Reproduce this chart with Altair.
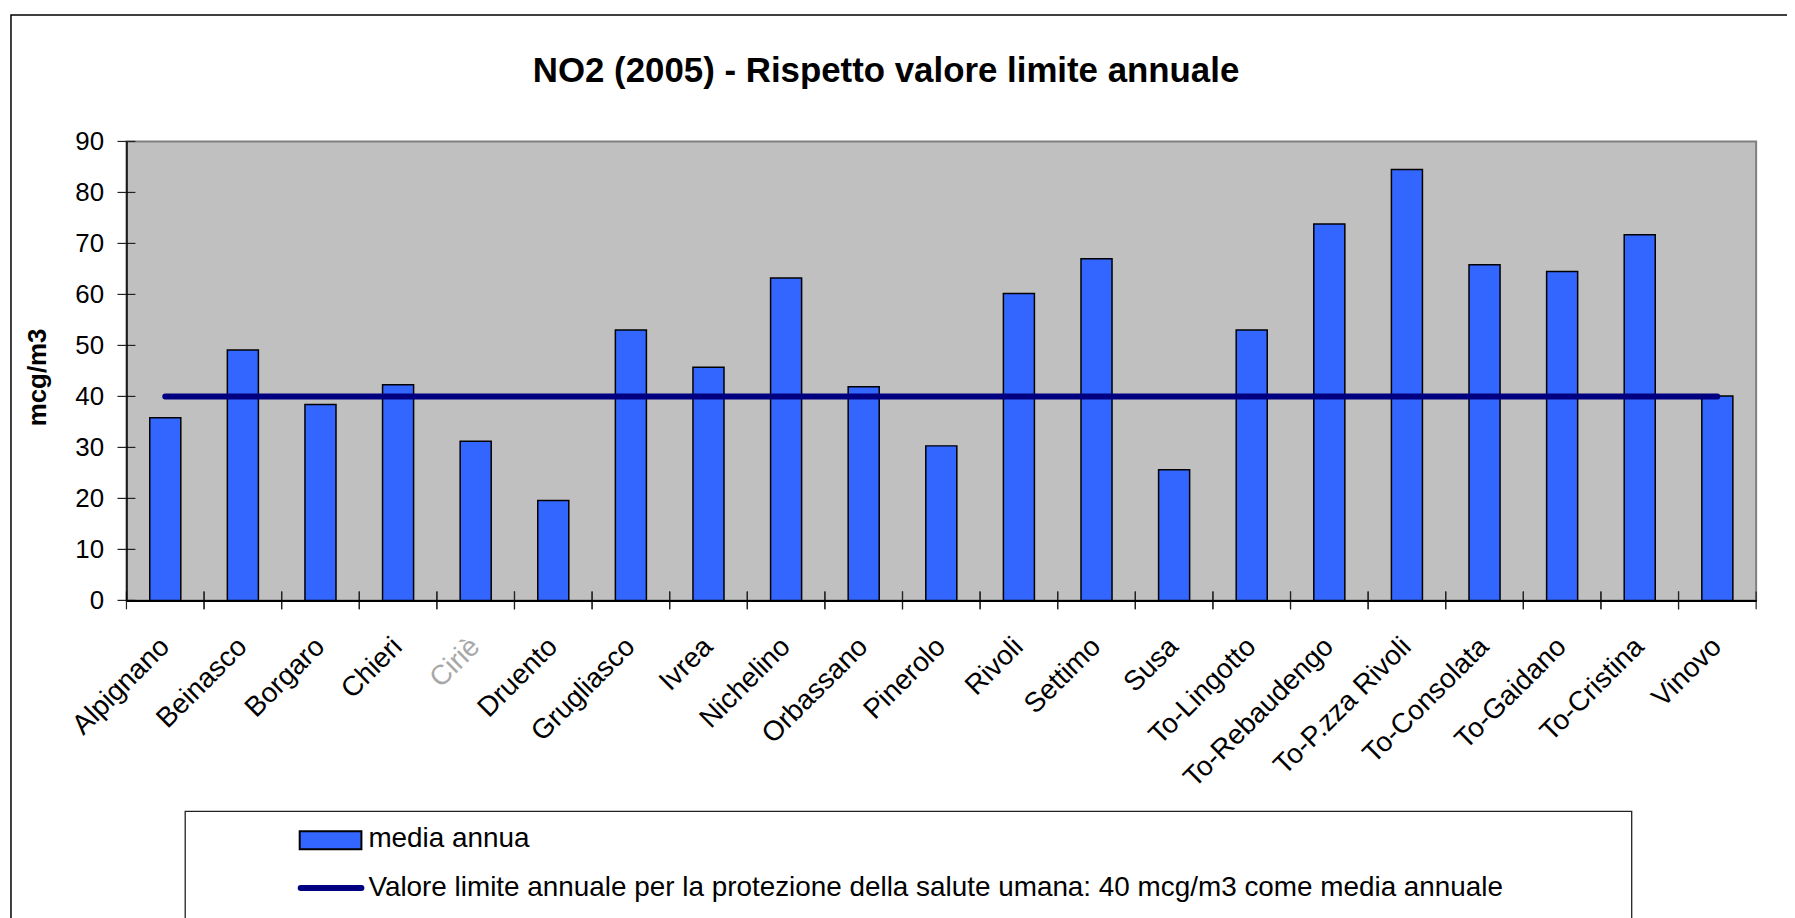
import altair as alt
import pandas as pd

# ---------------- data ----------------
stazioni = ["Alpignano", "Beinasco", "Borgaro", "Chieri", "Ciriè", "Druento",
            "Grugliasco", "Ivrea", "Nichelino", "Orbassano", "Pinerolo", "Rivoli",
            "Settimo", "Susa", "To-Lingotto", "To-Rebaudengo", "To-P.zza Rivoli",
            "To-Consolata", "To-Gaidano", "To-Cristina", "Vinovo"]
media_annua = [35.8, 49.1, 38.4, 42.3, 31.2, 19.6, 53.0, 45.7, 63.2, 41.9, 30.3,
               60.2, 67.0, 25.6, 53.0, 73.8, 84.5, 65.8, 64.5, 71.7, 40.1]
valore_limite = [40, 40, 40, 40, 40, 40, 40, 40, 40, 40, 40,
                 40, 40, 40, 40, 40, 40, 40, 40, 40, 40]
y_ticks = [0, 10, 20, 30, 40, 50, 60, 70, 80, 90]
titolo = "NO2 (2005) - Rispetto valore limite annuale"
titolo_y = "mcg/m3"
legenda = ["media annua",
           "Valore limite annuale per la protezione della salute umana: 40 mcg/m3 come media annuale"]

FONT = "Liberation Sans"
W, H = 1637, 461

df = pd.DataFrame({"stazione": stazioni, "media": media_annua, "limite": valore_limite})
df_ticks = pd.DataFrame({"v": y_ticks})
one = alt.Data(values=[{"k": 0}])

x_scale = alt.Scale(paddingInner=0, paddingOuter=0)
x_axis = alt.Axis(
    title=None, labelAngle=-45, labelAlign="right", labelBaseline="middle",
    labelFont=FONT, labelFontSize=28, labelPadding=42, labelLimit=500,
    labelOverlap=False, ticks=False, tickSize=0,
    labelColor={"condition": {"test": "datum.value === 'Ciriè'", "value": "#a8a8a8"},
                "value": "black"},
    domainColor="black", domainWidth=2, zindex=1)
y_scale = alt.Scale(domain=[0, 90], nice=False, zero=True)
y_axis = alt.Axis(
    values=y_ticks, title=titolo_y, titleFont=FONT, titleFontSize=26,
    titleFontWeight="bold", titleColor="black", titleX=-89, titleY=H / 2 + 6,
    titleBaseline="middle", titleAlign="center", titleAngle=-90,
    labelFont=FONT, labelFontSize=26, labelColor="black", labelPadding=23,
    ticks=False, tickSize=0, grid=False,
    domainColor="black", domainWidth=1.5, zindex=1)


def X(bp=None):
    if bp is None:
        return alt.X("stazione:N", sort=None, scale=x_scale, axis=x_axis)
    return alt.X("stazione:N", sort=None, scale=x_scale, axis=x_axis, bandPosition=bp)


frame = alt.Chart(one).mark_rect(filled=False, color="black", strokeWidth=1.5).encode(
    x=alt.value(-116), x2=alt.value(1700), y=alt.value(-127), y2=alt.value(900))

bars = alt.Chart(df).mark_bar(
    color="#3366FF", stroke="black", strokeWidth=1.5, width=alt.RelativeBandSize(0.4)
).encode(x=X(), y=alt.Y("media:Q", scale=y_scale, axis=y_axis))

line = alt.Chart(df).mark_line(color="#000080", strokeWidth=6, strokeCap="round").encode(
    x=X(), y=alt.Y("limite:Q", scale=y_scale, axis=y_axis))

yt = alt.Chart(df_ticks).mark_rule(color="#222222", strokeWidth=1.2).encode(
    y=alt.Y("v:Q", scale=y_scale, axis=y_axis), x=alt.value(-9), x2=alt.value(9))

xt0 = alt.Chart(df).mark_rule(color="#222222", strokeWidth=1.2).encode(
    x=X(0), y=alt.value(H - 9), y2=alt.value(H + 9))
xt1 = alt.Chart(df).mark_rule(color="#222222", strokeWidth=1.2).encode(
    x=X(1), y=alt.value(H - 9), y2=alt.value(H + 9))

title = alt.Chart(one).mark_text(
    font=FONT, fontSize=35, fontWeight="bold", align="center", baseline="alphabetic",
    color="black").encode(x=alt.value(763), y=alt.value(-60), text=alt.value(titolo))

leg_box = alt.Chart(one).mark_rect(filled=False, color="#222222", strokeWidth=1.3).encode(
    x=alt.value(59), x2=alt.value(1512), y=alt.value(673), y2=alt.value(900))
leg_rect = alt.Chart(one).mark_rect(fill="#3366FF", stroke="black", strokeWidth=2).encode(
    x=alt.value(174), x2=alt.value(236), y=alt.value(693), y2=alt.value(711))
leg_line = alt.Chart(one).mark_rule(color="#000080", strokeWidth=6, strokeCap="round").encode(
    x=alt.value(175), x2=alt.value(236), y=alt.value(750))
leg_t1 = alt.Chart(one).mark_text(font=FONT, fontSize=28, align="left", baseline="alphabetic",
                                  color="black").encode(
    x=alt.value(243), y=alt.value(709), text=alt.value(legenda[0]))
leg_t2 = alt.Chart(one).mark_text(font=FONT, fontSize=28, align="left", baseline="alphabetic",
                                  color="black").encode(
    x=alt.value(243), y=alt.value(758), text=alt.value(legenda[1]))

chart = alt.layer(
    frame, bars, line, yt, xt0, xt1, title, leg_box, leg_rect, leg_line, leg_t1, leg_t2
).properties(
    width=W, height=H,
    autosize=alt.AutoSizeParams(type="none"),
    padding={"left": 119, "top": 132, "right": 31, "bottom": 317},
    background="white",
).configure_view(fill="#C0C0C0", stroke="#808080", strokeWidth=2)

chart.save("out.html", embed_options={"renderer": "svg", "actions": False})
